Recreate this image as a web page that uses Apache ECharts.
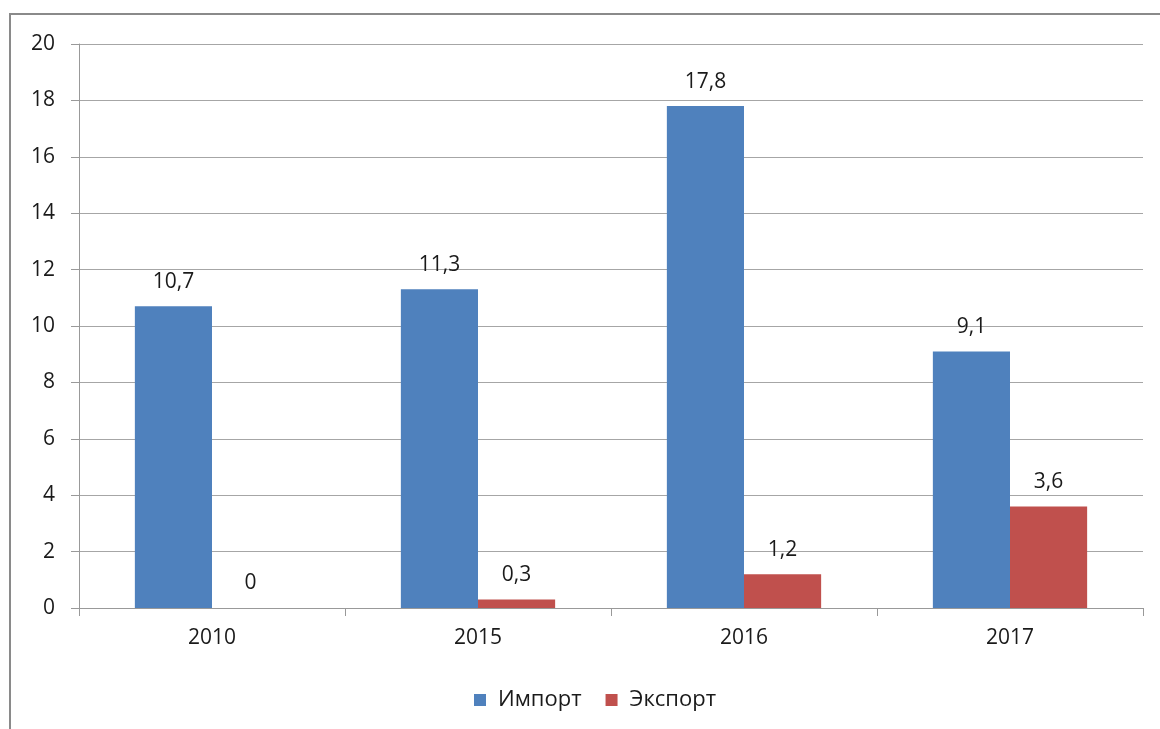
<!DOCTYPE html>
<html><head><meta charset="utf-8">
<script src="https://cdn.jsdelivr.net/npm/echarts@6/dist/echarts.min.js"></script>
<style>html,body{margin:0;padding:0;background:#fff}#c{width:1160px;height:729px}</style>
</head><body><div id="c"></div>
<script>
const categories = ['2010', '2015', '2016', '2017'];
const importValues = [10.7, 11.3, 17.8, 9.1];
const exportValues = [0, 0.3, 1.2, 3.6];
const yTicks = {min: 0, max: 20, interval: 2};
const FONT = '"Open Sans", "Noto Sans", sans-serif';
const FS = 21;
const fmt = p => String(p.value).replace('.', ',');
const chart = echarts.init(document.getElementById('c'));
chart.setOption({
  animation: false,
  backgroundColor: '#fff',
  graphic: [{type: 'rect', shape: {x: 10, y: 14, width: 1300, height: 900}, style: {fill: 'none', stroke: '#8a8a8a', lineWidth: 2}}],
  grid: {left: 79, right: 17, top: 44, bottom: 121},
  legend: {top: 689, left: 474, padding: 0, itemWidth: 12, itemHeight: 12, itemGap: 24, icon: 'rect',
    textStyle: {fontFamily: FONT, fontSize: 22, color: '#1a1a1a', padding: [0, 0, 0, 7]}},
  xAxis: {type: 'category', data: categories,
    axisLine: {lineStyle: {color: '#999', width: 1}},
    axisTick: {show: true, length: 8, lineStyle: {color: '#999'}},
    axisLabel: {fontFamily: FONT, fontSize: FS, color: '#1a1a1a', margin: 20}},
  yAxis: {type: 'value', min: yTicks.min, max: yTicks.max, interval: yTicks.interval,
    axisLine: {show: true, lineStyle: {color: '#999', width: 1}},
    axisTick: {show: true, length: 8, lineStyle: {color: '#999'}},
    splitLine: {lineStyle: {color: '#a6a6a6', width: 1}},
    axisLabel: {fontFamily: FONT, fontSize: FS, color: '#1a1a1a', margin: 24}},
  series: [
    {name: 'Импорт', type: 'bar', data: importValues, barGap: '0%', barCategoryGap: '42%',
     itemStyle: {color: '#4F81BD'},
     label: {show: true, position: 'top', distance: 14, formatter: fmt, fontFamily: FONT, fontSize: FS, color: '#1a1a1a'}},
    {name: 'Экспорт', type: 'bar', data: exportValues,
     itemStyle: {color: '#C0504D'},
     label: {show: true, position: 'top', distance: 14, formatter: fmt, fontFamily: FONT, fontSize: FS, color: '#1a1a1a'}}
  ]
});
</script></body></html>
